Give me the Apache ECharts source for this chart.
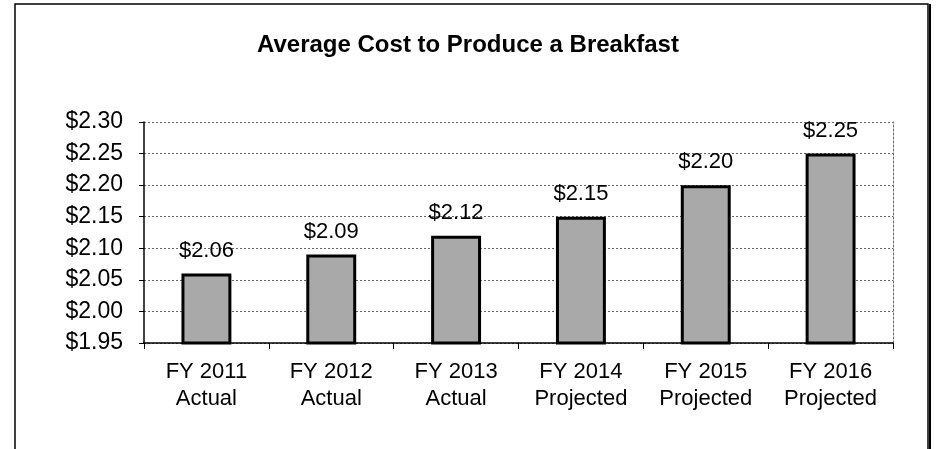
<!DOCTYPE html>
<html>
<head>
<meta charset="utf-8">
<script src="https://cdn.jsdelivr.net/npm/echarts@6/dist/echarts.min.js"></script>
<style>
  html, body { margin: 0; padding: 0; background: #fff; }
  #chart { width: 936px; height: 449px; }
</style>
</head>
<body>
<div id="chart"></div>
<script>
// Fiscal years and their cost per breakfast
const years = ['FY 2011', 'FY 2012', 'FY 2013', 'FY 2014', 'FY 2015', 'FY 2016'];
const status = ['Actual', 'Actual', 'Actual', 'Projected', 'Projected', 'Projected'];
const costs = [2.06, 2.09, 2.12, 2.15, 2.20, 2.25];
const categories = years.map((y, i) => y + '\n' + status[i]);

const font = 'Liberation Sans, Arial, sans-serif';
const chart = echarts.init(document.getElementById('chart'), null, { renderer: 'canvas' });

chart.setOption({
  backgroundColor: '#fff',
  animation: false,
  title: {
    text: 'Average Cost to Produce a Breakfast',
    left: 'center',
    top: 28,
    textStyle: { fontFamily: font, fontSize: 24, fontWeight: 'bold', color: '#000' }
  },
  graphic: [{
    type: 'rect',
    shape: { x: 15, y: 4, width: 913, height: 470 },
    style: { fill: 'none', stroke: '#000', lineWidth: 1.5 },
    silent: true
  }, {
    type: 'line',
    shape: { x1: 930, y1: 4, x2: 930, y2: 449 },
    style: { stroke: '#000', lineWidth: 2 },
    silent: true
  }],
  grid: { left: 144, right: 43, top: 122, bottom: 106 },
  xAxis: {
    type: 'category',
    data: categories,
    axisLine: { lineStyle: { color: '#000', width: 1.5 } },
    axisTick: { show: true, length: 6, lineStyle: { color: '#000' } },
    axisLabel: { color: '#000', fontFamily: font, fontSize: 22, lineHeight: 27, margin: 15 }
  },
  yAxis: [{
    type: 'value',
    min: 1.95,
    max: 2.30,
    interval: 0.05,
    axisLine: { show: true, lineStyle: { color: '#000', width: 1.5 } },
    axisTick: { show: true, length: 5, lineStyle: { color: '#000' } },
    axisLabel: {
      color: '#000', fontFamily: font, fontSize: 23, margin: 21,
      formatter: v => '$' + v.toFixed(2)
    },
    splitLine: { show: true, lineStyle: { color: '#666', type: [2, 2], width: 1 } }
  }, {
    type: 'value',
    position: 'right',
    min: 1.95,
    max: 2.30,
    interval: 0.05,
    axisLine: { show: true, lineStyle: { color: '#666', type: [2, 2], width: 1 } },
    axisTick: { show: false },
    axisLabel: { show: false },
    splitLine: { show: false }
  }],
  series: [{
    type: 'bar',
    data: costs,
    barWidth: '40%',
    itemStyle: { color: '#a9a9a9', borderColor: '#000', borderWidth: 3 },
    label: {
      show: true,
      position: 'top',
      distance: 12,
      color: '#000',
      fontFamily: font,
      fontSize: 22,
      formatter: p => '$' + p.value.toFixed(2)
    }
  }]
});
</script>
</body>
</html>
